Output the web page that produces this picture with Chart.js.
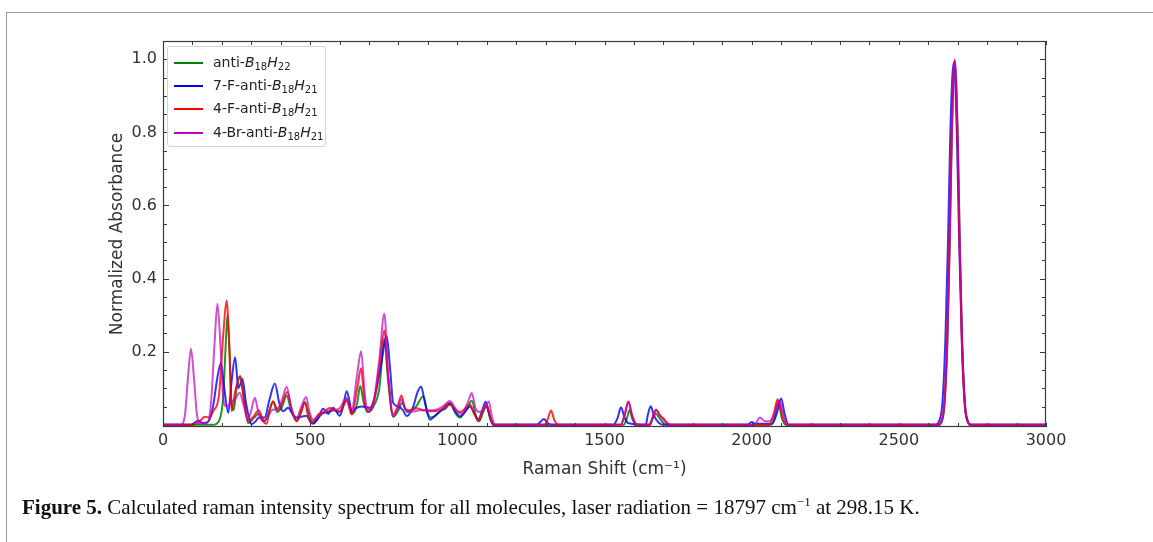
<!DOCTYPE html>
<html>
<head>
<meta charset="utf-8">
<script src="https://cdn.jsdelivr.net/npm/chart.js@4.4.1/dist/chart.umd.min.js"></script>
<style>
  html, body { margin: 0; padding: 0; background: #fff; overflow: hidden; }
  #wrap { position: relative; width: 1153px; height: 542px; overflow: hidden; }
  #frame { position: absolute; left: 6px; top: 12px; width: 1200px; height: 600px; border: 1px solid #9a9a9a; }
  #chart { position: absolute; left: 0; top: 0; }
  #legend { position: absolute; left: 167px; top: 46px; width: 157px; height: 99px; border: 1px solid #d4d4d4;
            border-radius: 3px; background: rgba(255,255,255,0.85); font-family: "DejaVu Sans"; font-size: 14px; color: #222; }
  .item { position: absolute; left: 6px; height: 20px; line-height: 20px; white-space: nowrap; }
  .swatch { display: inline-block; width: 29px; height: 2px; vertical-align: middle; margin-right: 10px; }
  .item sub { font-size: 10px; vertical-align: -3px; line-height: 0; }
  #caption { position: absolute; left: 22px; top: 494px; font-family: "Liberation Serif"; font-size: 21px; color: #111; white-space: nowrap; }
</style>
</head>
<body>
<div id="wrap">
  <div id="frame"></div>
  <canvas id="chart" width="1153" height="542"></canvas>
  <div id="legend">
    <div class="item" style="top:5px"><span class="swatch" style="background:#008000"></span>anti-<i>B</i><sub>18</sub><i>H</i><sub>22</sub></div>
    <div class="item" style="top:28px"><span class="swatch" style="background:#0000ff"></span>7-F-anti-<i>B</i><sub>18</sub><i>H</i><sub>21</sub></div>
    <div class="item" style="top:51px"><span class="swatch" style="background:#ff0000"></span>4-F-anti-<i>B</i><sub>18</sub><i>H</i><sub>21</sub></div>
    <div class="item" style="top:75px"><span class="swatch" style="background:#bf00bf"></span>4-Br-anti-<i>B</i><sub>18</sub><i>H</i><sub>21</sub></div>
  </div>
  <div id="caption"><b>Figure 5.</b> Calculated raman intensity spectrum for all molecules, laser radiation = 18797 cm<sup style="font-size:13px">&minus;1</sup> at 298.15 K.</div>
</div>
<script>
// Tick labels
const xTickLabels = [0, 500, 1000, 1500, 2000, 2500, 3000];
const yTickLabels = [0.2, 0.4, 0.6, 0.8, 1.0];

// Spectra: [Raman shift (cm-1), normalized intensity]
const antiB18H22 = [
  [0, 0], [170, 0], [190, 0.01], [205, 0.08], [212, 0.2], [219, 0.30], [226, 0.2], [233, 0.06], [240, 0.04],
  [250, 0.1], [262, 0.133], [274, 0.08], [289, 0.005], [310, 0.02], [326, 0.03], [345, 0.01], [362, 0.04],
  [374, 0.064], [388, 0.035], [405, 0.05], [420, 0.08], [435, 0.04], [455, 0.01], [470, 0.04], [482, 0.062],
  [495, 0.03], [510, 0.005], [540, 0.03], [560, 0.035], [580, 0.04], [600, 0.035], [624, 0.07], [645, 0.03],
  [660, 0.06], [670, 0.107], [682, 0.06], [695, 0.035], [715, 0.05], [735, 0.1], [752, 0.235], [765, 0.12],
  [782, 0.022], [800, 0.04], [812, 0.06], [830, 0.035], [860, 0.05], [884, 0.078], [900, 0.03], [910, 0.02],
  [940, 0.035], [975, 0.06], [995, 0.03], [1009, 0.02], [1030, 0.04], [1049, 0.066], [1065, 0.02], [1075, 0.01],
  [1090, 0.04], [1100, 0.05], [1112, 0.015], [1125, 0], [1565, 0], [1575, 0.015], [1585, 0.04], [1595, 0.015],
  [1610, 0], [1650, 0], [1665, 0.02], [1675, 0.03], [1685, 0.02], [1700, 0.005], [1715, 0], [2065, 0],
  [2078, 0.02], [2090, 0.065], [2102, 0.02], [2115, 0], [2635, 0], [2645, 0.008], [2655, 0.055], [2665, 0.23],
  [2673, 0.5], [2680, 0.79], [2690, 0.995], [2700, 0.79], [2707, 0.5], [2715, 0.23], [2725, 0.055],
  [2735, 0.008], [2745, 0], [3000, 0]
];
const fAntiB18H21_7 = [
  [0, 0], [95, 0], [108, 0.006], [120, 0.012], [135, 0.005], [155, 0.01], [170, 0.05], [185, 0.13], [197, 0.169],
  [208, 0.1], [222, 0.033], [232, 0.11], [245, 0.185], [256, 0.1], [262, 0.11], [270, 0.126], [282, 0.06],
  [301, 0.002], [315, 0.01], [326, 0.02], [345, 0.02], [362, 0.07], [380, 0.113], [395, 0.06], [408, 0.037],
  [425, 0.047], [440, 0.03], [454, 0.02], [470, 0.022], [488, 0.025], [500, 0.01], [510, 0.003], [528, 0.02],
  [544, 0.044], [561, 0.03], [578, 0.047], [601, 0.025], [612, 0.05], [624, 0.092], [635, 0.06], [641, 0.033],
  [655, 0.045], [675, 0.05], [703, 0.047], [720, 0.078], [740, 0.16], [760, 0.242], [772, 0.15], [782, 0.06],
  [800, 0.05], [815, 0.04], [828, 0.024], [850, 0.05], [865, 0.09], [877, 0.104], [890, 0.06], [907, 0.014],
  [925, 0.025], [941, 0.037], [960, 0.045], [975, 0.058], [990, 0.04], [1009, 0.023], [1025, 0.035],
  [1043, 0.05], [1058, 0.03], [1071, 0.015], [1085, 0.04], [1096, 0.063], [1108, 0.03], [1122, 0], [1270, 0],
  [1282, 0.008], [1294, 0.016], [1306, 0.006], [1320, 0], [1530, 0], [1545, 0.02], [1556, 0.048], [1568, 0.02],
  [1580, 0.005], [1640, 0], [1648, 0.03], [1657, 0.051], [1668, 0.025], [1685, 0.005], [1700, 0], [1985, 0],
  [2000, 0.008], [2012, 0.003], [2070, 0.003], [2085, 0.03], [2100, 0.072], [2112, 0.03], [2125, 0],
  [2625, 0], [2637, 0.01], [2648, 0.06], [2658, 0.23], [2667, 0.5], [2675, 0.8], [2686, 0.99], [2697, 0.8],
  [2705, 0.5], [2714, 0.23], [2724, 0.055], [2735, 0.008], [2745, 0], [3000, 0]
];
const fAntiB18H21_4 = [
  [0, 0], [100, 0], [120, 0.006], [143, 0.022], [158, 0.02], [170, 0.037], [190, 0.08], [205, 0.25], [216, 0.34],
  [226, 0.2], [233, 0.037], [245, 0.09], [262, 0.133], [276, 0.06], [289, 0.01], [305, 0.02], [326, 0.04],
  [340, 0.01], [352, 0.003], [362, 0.04], [374, 0.064], [390, 0.04], [405, 0.06], [422, 0.09], [438, 0.04],
  [454, 0.01], [470, 0.035], [482, 0.062], [494, 0.02], [503, 0.005], [530, 0.03], [545, 0.035], [567, 0.046],
  [585, 0.04], [601, 0.037], [624, 0.065], [641, 0.028], [660, 0.1], [673, 0.155], [684, 0.07], [692, 0.042],
  [710, 0.045], [735, 0.16], [752, 0.258], [765, 0.13], [782, 0.028], [797, 0.05], [810, 0.08], [822, 0.045],
  [840, 0.04], [862, 0.045], [884, 0.04], [907, 0.037], [940, 0.04], [975, 0.055], [1009, 0.035], [1043, 0.055],
  [1058, 0.03], [1071, 0.01], [1088, 0.04], [1100, 0.055], [1112, 0.02], [1125, 0], [1295, 0], [1307, 0.015],
  [1318, 0.039], [1330, 0.012], [1345, 0], [1555, 0], [1568, 0.025], [1581, 0.063], [1594, 0.025], [1610, 0],
  [1655, 0], [1663, 0.02], [1675, 0.042], [1688, 0.025], [1700, 0.018], [1710, 0.008], [1725, 0], [2060, 0],
  [2075, 0.03], [2088, 0.07], [2100, 0.04], [2110, 0.01], [2125, 0], [2634, 0], [2644, 0.008], [2654, 0.055],
  [2664, 0.23], [2672, 0.5], [2679, 0.79], [2689, 0.995], [2699, 0.79], [2706, 0.5], [2714, 0.23],
  [2724, 0.055], [2734, 0.008], [2744, 0], [3000, 0]
];
const brAntiB18H21_4 = [
  [0, 0], [60, 0], [75, 0.03], [85, 0.13], [95, 0.208], [105, 0.13], [115, 0.03], [125, 0.004], [150, 0.005],
  [163, 0.06], [175, 0.22], [185, 0.331], [195, 0.22], [205, 0.07], [215, 0.05], [230, 0.06], [245, 0.07],
  [260, 0.088], [275, 0.05], [289, 0.014], [300, 0.04], [312, 0.074], [325, 0.03], [340, 0.01], [355, 0.02],
  [370, 0.04], [390, 0.045], [405, 0.07], [420, 0.104], [435, 0.05], [452, 0.015], [470, 0.05], [486, 0.076],
  [498, 0.035], [510, 0.014], [530, 0.025], [556, 0.037], [580, 0.04], [600, 0.045], [624, 0.075], [641, 0.04],
  [660, 0.14], [673, 0.201], [685, 0.09], [695, 0.035], [715, 0.06], [735, 0.18], [752, 0.304], [765, 0.14],
  [782, 0.022], [798, 0.045], [810, 0.07], [825, 0.04], [846, 0.036], [873, 0.04], [918, 0.04], [950, 0.05],
  [975, 0.065], [1000, 0.035], [1015, 0.03], [1035, 0.06], [1049, 0.087], [1062, 0.045], [1075, 0.035],
  [1095, 0.05], [1107, 0.064], [1118, 0.02], [1130, 0], [1555, 0], [1568, 0.025], [1581, 0.064], [1594, 0.025],
  [1610, 0], [1655, 0], [1665, 0.02], [1676, 0.04], [1690, 0.025], [1705, 0.01], [1720, 0], [2010, 0],
  [2028, 0.02], [2045, 0.01], [2060, 0.01], [2078, 0.03], [2095, 0.065], [2108, 0.03], [2120, 0], [2635, 0],
  [2645, 0.008], [2655, 0.055], [2665, 0.23], [2673, 0.5], [2680, 0.79], [2690, 1.0], [2700, 0.79],
  [2707, 0.5], [2715, 0.23], [2725, 0.055], [2735, 0.008], [2745, 0], [3000, 0]
];

const seriesNames = ['anti-B18H22', '7-F-anti-B18H21', '4-F-anti-B18H21', '4-Br-anti-B18H21'];
const seriesData = [antiB18H22, fAntiB18H21_7, fAntiB18H21_4, brAntiB18H21_4];
const seriesColors = ['rgba(0,128,0,0.85)', 'rgba(0,0,255,0.8)', 'rgba(255,0,0,0.8)', 'rgba(191,0,191,0.7)'];

// inward ticks on all four sides plus the frame, matplotlib style
const frameTicks = {
  id: 'frameTicks',
  afterDatasetsDraw(chart) {
    const { ctx, chartArea: a, scales: { x, y } } = chart;
    ctx.save();
    ctx.strokeStyle = '#3a3a3a';
    ctx.lineWidth = 1;
    ctx.beginPath();
    for (let v = 0; v <= 3000; v += 100) {
      const px = Math.round(x.getPixelForValue(v)) + 0.5;
      ctx.moveTo(px, a.bottom); ctx.lineTo(px, a.bottom - 4);
      ctx.moveTo(px, a.top); ctx.lineTo(px, a.top + 4);
    }
    for (let i = 1; i <= 20; i++) {
      const v = i * 0.05;
      const len = (i % 4 === 0) ? 6 : 4;
      const py = Math.round(y.getPixelForValue(v)) + 0.5;
      ctx.moveTo(a.left, py); ctx.lineTo(a.left + len, py);
      ctx.moveTo(a.right, py); ctx.lineTo(a.right - len, py);
    }
    ctx.stroke();
    ctx.lineWidth = 1.2;
    ctx.strokeRect(a.left + 0.5, a.top + 0.5, a.right - a.left - 1, a.bottom - a.top - 1);
    ctx.restore();
  }
};

const tickFont = { family: 'DejaVu Sans', size: 16 };

new Chart(document.getElementById('chart'), {
  type: 'line',
  data: {
    datasets: seriesData.map((pts, i) => ({
      label: seriesNames[i],
      data: pts.map(p => ({ x: p[0], y: p[1] })),
      borderColor: seriesColors[i],
      borderWidth: 2,
      pointRadius: 0,
      fill: false,
      cubicInterpolationMode: 'monotone',
      order: 4 - i
    }))
  },
  options: {
    responsive: false,
    animation: false,
    devicePixelRatio: 1,
    layout: { padding: { left: 0, top: 41, right: 107, bottom: 0 } },
    plugins: { legend: { display: false }, tooltip: { enabled: false } },
    scales: {
      x: {
        type: 'linear',
        min: 0,
        max: 3000,
        grid: { display: false, drawTicks: false },
        border: { display: false },
        afterBuildTicks: s => { s.ticks = xTickLabels.map(v => ({ value: v })); },
        afterFit: s => { s.height = 115; },
        ticks: { font: tickFont, color: '#333', padding: 4, maxRotation: 0, callback: v => String(v) },
        title: { display: true, text: 'Raman Shift (cm\u207B\u00B9)', color: '#333',
                 font: { family: 'DejaVu Sans', size: 17 }, padding: { top: 0, bottom: 62 } }
      },
      y: {
        type: 'linear',
        min: -0.006,
        max: 1.05,
        grid: { display: false, drawTicks: false },
        border: { display: false },
        afterBuildTicks: s => { s.ticks = yTickLabels.map(v => ({ value: v })); },
        afterFit: s => { s.width = 163; },
        ticks: { font: tickFont, color: '#333', padding: 6, callback: v => v.toFixed(1) },
        title: { display: true, text: 'Normalized Absorbance', color: '#333',
                 font: { family: 'DejaVu Sans', size: 17 }, padding: { top: 107, bottom: 0 } }
      }
    }
  },
  plugins: [frameTicks]
});
</script>
</body>
</html>
